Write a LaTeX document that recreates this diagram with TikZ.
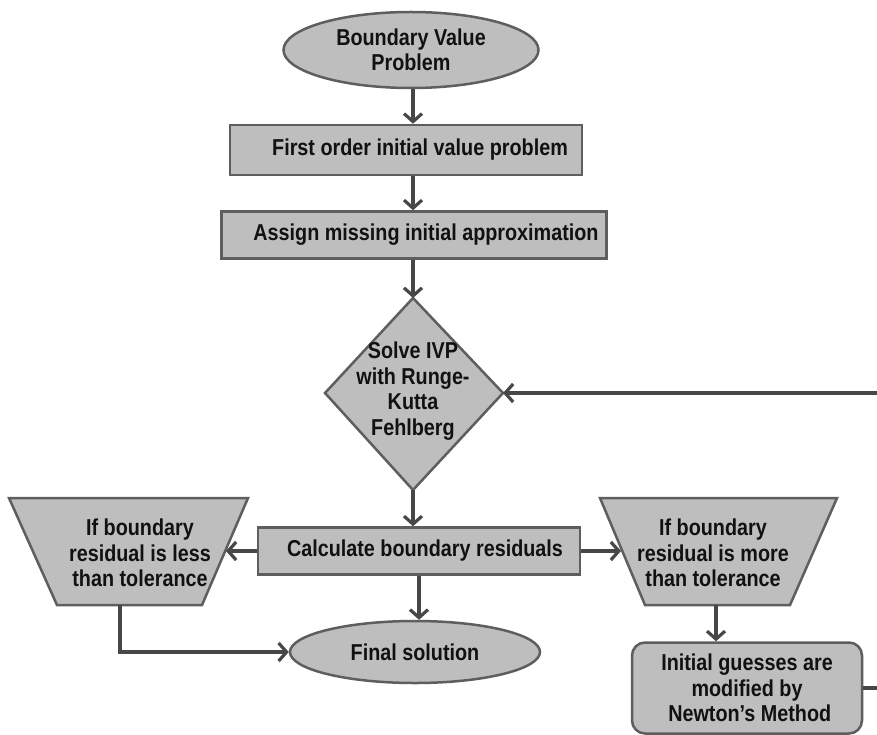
\documentclass[tikz,border=0pt]{standalone}
\usepackage{fontspec}
\setmainfont{Liberation Sans}[FakeStretch=0.86]
\usetikzlibrary{arrows.meta,shapes.geometric}
\definecolor{fillg}{HTML}{BEBEBE}
\definecolor{edgeg}{HTML}{5E5E5E}
\definecolor{arrg}{HTML}{474747}
\definecolor{txtc}{HTML}{111111}
\newcommand\flowfont{\fontsize{23}{25.5}\selectfont\bfseries}
\begin{document}
\begin{tikzpicture}[x=1pt,y=-1pt,
  shp/.style={draw=edgeg, line width=2.5pt, fill=fillg},
  box/.style={shp, font=\flowfont, text=txtc, align=center, inner sep=0pt},
  lbl/.style={font=\flowfont, text=txtc, align=center, inner sep=0pt},
  arr/.style={draw=arrg, line width=3.2pt, -{Straight Barb[length=8pt,width=18pt]}},
  line join=miter]
\useasboundingbox (0,0) rectangle (877,735);
\fill[white] (0,0) rectangle (877,735);

% top chain
\node[box, ellipse, minimum width=255pt, minimum height=76pt] (bvp) at (411,50) {Boundary Value\\Problem};
\node[box, minimum width=352pt, minimum height=50pt] (fo) at (406,150) {\hspace*{28pt}First order initial value problem};
\node[box, minimum width=385pt, minimum height=47pt] (as) at (414,235) {\hspace*{24pt}Assign missing initial approximation};

% diamond
\coordinate (dt) at (413,298);
\coordinate (dr) at (503,393);
\coordinate (db) at (413,490);
\coordinate (dl) at (325,393);
\draw[shp] (dt) -- (dr) -- (db) -- (dl) -- cycle;
\node[lbl] (ivp) at (413,391) {Solve IVP\\with Runge-\\Kutta\\Fehlberg};

% calc
\node[box, minimum width=322pt, minimum height=47pt] (calc) at (419,551) {\hspace*{12pt}Calculate boundary residuals};

% left trapezoid
\coordinate (l1) at (9,498);
\coordinate (l2) at (248,498);
\coordinate (l3) at (202,605);
\coordinate (l4) at (57,605);
\draw[shp] (l1) -- (l2) -- (l3) -- (l4) -- cycle;
\node[lbl] (less) at (140,553) {If boundary\\residual is less\\than tolerance};
\coordinate (lr) at (226,551);
\coordinate (lb) at (120,605);

% right trapezoid
\coordinate (r1) at (600,498);
\coordinate (r2) at (837,498);
\coordinate (r3) at (790,605);
\coordinate (r4) at (645,605);
\draw[shp] (r1) -- (r2) -- (r3) -- (r4) -- cycle;
\node[lbl] (more) at (713,553) {If boundary\\residual is more\\than tolerance};
\coordinate (rl) at (621,551);
\coordinate (rb) at (716,605);

% newton
\node[box, rounded corners=13pt, minimum width=230pt, minimum height=91pt] (nm) at (747,688) {Initial guesses are\\modified by\\\ Newton’s Method};

% final
\node[box, ellipse, minimum width=250pt, minimum height=62pt] (fin) at (415,652) {Final solution};

% connectors
\draw[arr] (dt |- bvp.south) -- (dt |- fo.north);
\draw[arr] (dt |- fo.south) -- (dt |- as.north);
\draw[arr] (dt |- as.south) -- (dt);
\draw[arr] (db) -- (db |- calc.north);
\draw[arr] (calc.west) -- (lr);
\draw[arr] (calc.east) -- (rl);
\draw[arr] (calc.south) -- (calc.south |- fin.north);
\draw[arr] (rb) -- (rb |- nm.north);
\draw[arr] (lb) |- (fin.west);
\coordinate (fb) at (900,393);
\draw[arr] (nm.east) -- (nm.east -| fb) |- (dr);
\end{tikzpicture}
\end{document}
